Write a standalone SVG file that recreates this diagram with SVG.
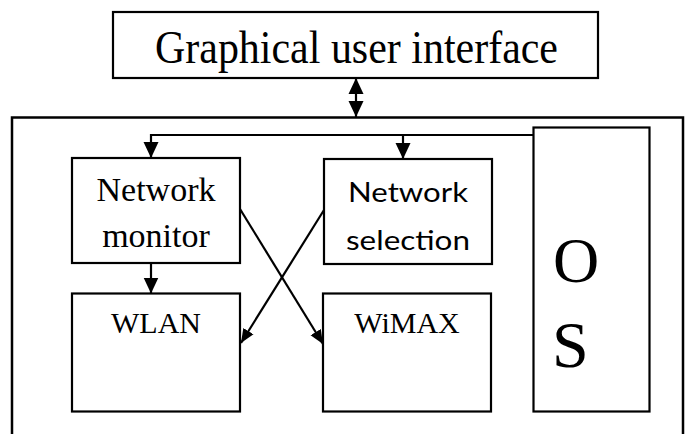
<svg xmlns="http://www.w3.org/2000/svg" width="688" height="434" viewBox="0 0 688 434">
<style>
.box{fill:#fff;stroke:#000;stroke-width:2.2}
.ln{fill:none;stroke:#000;stroke-width:2.2}
.serif{font-family:"Liberation Serif","Times New Roman",serif;fill:#000}
.sans{font-family:Lato,"Liberation Sans",sans-serif;fill:#000}
</style>
<defs>
<marker id="ah" markerUnits="userSpaceOnUse" markerWidth="16" markerHeight="16" viewBox="0 0 16 16" refX="16" refY="8" orient="auto-start-reverse">
<path d="M0,0.5 L16,8 L0,15.5 Z" fill="#000"/>
</marker>
<marker id="ahs" markerUnits="userSpaceOnUse" markerWidth="14" markerHeight="14" viewBox="0 0 14 14" refX="14" refY="7" orient="auto">
<path d="M0,1 L14,7 L0,13 Z" fill="#000"/>
</marker>
</defs>
<rect id="outer" x="12" y="117.5" width="671" height="340" fill="none" stroke="#000" stroke-width="2.5"/>
<g id="gui">
<rect class="box" x="113" y="12" width="485" height="66"/>
<text class="serif" x="356.5" y="63" font-size="46" text-anchor="middle" textLength="403" lengthAdjust="spacingAndGlyphs">Graphical user interface</text>
</g>
<g id="netmon">
<rect class="box" x="72" y="158" width="168" height="105"/>
<text class="serif" x="156" y="200.5" font-size="34" text-anchor="middle">Network</text>
<text class="serif" x="156" y="246.5" font-size="34" text-anchor="middle">monitor</text>
</g>
<g id="netsel">
<rect class="box" x="324" y="159" width="168" height="105"/>
<text class="sans" x="408" y="201.5" font-size="27" text-anchor="middle" textLength="120" lengthAdjust="spacingAndGlyphs">Network</text>
<text class="sans" x="408" y="250" font-size="27" text-anchor="middle" textLength="124" lengthAdjust="spacingAndGlyphs">selection</text>
</g>
<g id="wlan">
<rect class="box" x="72" y="293.5" width="168" height="118"/>
<text class="serif" x="156" y="333" font-size="30" text-anchor="middle">WLAN</text>
</g>
<g id="wimax">
<rect class="box" x="323" y="293.5" width="168" height="118"/>
<text class="serif" x="407" y="333" font-size="30" text-anchor="middle">WiMAX</text>
</g>
<g id="os">
<rect class="box" x="533.5" y="127.5" width="116" height="284"/>
<text class="serif" x="553" y="281.5" font-size="64">O</text>
<text class="serif" x="552" y="367" font-size="66">S</text>
</g>
<g id="connectors">
<line class="ln" x1="356" y1="78" x2="356" y2="117" marker-start="url(#ah)" marker-end="url(#ah)"/>
<polyline class="ln" points="533.5,135 151,135 151,158" marker-end="url(#ah)"/>
<line class="ln" x1="403" y1="135" x2="403" y2="159" marker-end="url(#ah)"/>
<line class="ln" x1="151" y1="263" x2="151" y2="293.5" marker-end="url(#ah)"/>
<line class="ln" x1="240" y1="209" x2="323" y2="344" marker-end="url(#ahs)"/>
<line class="ln" x1="324" y1="210" x2="241" y2="343" marker-end="url(#ahs)"/>
</g>
</svg>
